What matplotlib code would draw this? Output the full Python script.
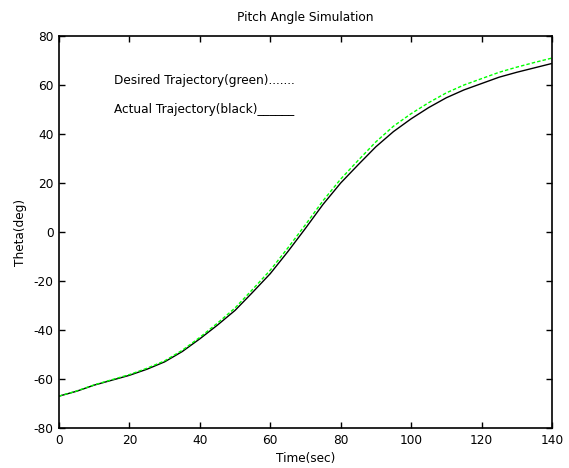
import numpy as np
import matplotlib
matplotlib.use("Agg")
import matplotlib.pyplot as plt

plt.rcParams['font.family'] = ['DejaVu Sans']
plt.rcParams['axes.unicode_minus'] = False

# time axis (sec) and pitch angle readings (deg)
time = [0, 5, 10, 15, 20, 25, 30, 35, 40, 45, 50, 55, 60, 65, 70,
        75, 80, 85, 90, 95, 100, 105, 110, 115, 120, 125, 130, 135, 140]
actual = [-67, -65, -62.5, -60.5, -58.5, -56, -53, -48.8, -43.6, -38, -32, -24.6, -17,
          -8, 1.5, 11.3, 20, 27.5, 34.8, 41, 46.2, 50.8, 54.8, 58, 60.6, 63.2, 65.2, 67, 68.8]
desired = [-67, -64.9, -62.4, -60.3, -58.2, -55.6, -52.6, -48.3, -43, -37.2, -31, -23.4, -15.6,
           -6.5, 3, 12.8, 21.6, 29.3, 36.8, 43.2, 48.3, 52.8, 56.8, 60, 62.6, 65.2, 67.3, 69.2, 71]

title = "Pitch Angle Simulation"
note_desired = "Desired Trajectory(green)......."
note_actual = "Actual Trajectory(black)______"

fig = plt.figure(figsize=(5.69, 4.68), dpi=100)
ax = fig.add_axes([0.1037, 0.0855, 0.8663, 0.8375])

ax.plot(time, actual, color='black', lw=1.0)
ax.plot(time, desired, color='#00ff00', lw=1.0, ls=(0, (2.5, 1.5)))

ax.set_xlim(0, 140)
ax.set_ylim(-80, 80)
ax.set_xticks(np.arange(0, 141, 20))
ax.set_yticks(np.arange(-80, 81, 20))
ax.tick_params(direction='in', length=4, width=1, top=True, right=True,
               labelsize=8.7, pad=4)
for s in ax.spines.values():
    s.set_linewidth(1.2)

ax.set_title(title, fontsize=8.7, pad=11)
ax.set_xlabel("Time(sec)", fontsize=8.7, labelpad=4)
ax.set_ylabel("Theta(deg)", fontsize=8.7, labelpad=5)

ax.text(15.6, 62, note_desired, fontsize=8.7, va='center')
ax.text(15.6, 50, note_actual, fontsize=8.7, va='center')

fig.savefig("out.png", dpi=100)
